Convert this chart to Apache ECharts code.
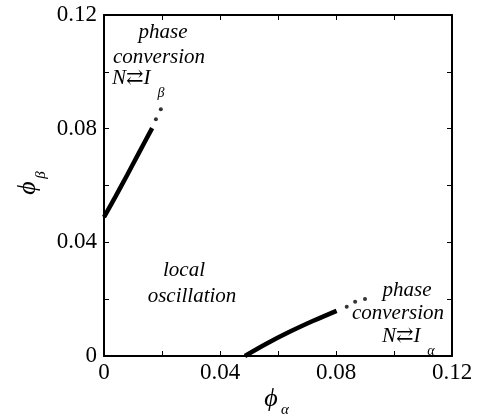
<!DOCTYPE html>
<html>
<head>
<meta charset="utf-8">
<script src="https://cdn.jsdelivr.net/npm/echarts@6/dist/echarts.min.js"></script>
<style>
html,body{margin:0;padding:0;background:#fff;}
#chart{width:480px;height:417px;}
</style>
</head>
<body>
<div id="chart"></div>
<script>
// Axis ticks / labels
var xTicks = [0, 0.04, 0.08, 0.12];
var xTickLabels = ['0', '0.04', '0.08', '0.12'];
var yTicks = [0, 0.04, 0.08, 0.12];
var yTickLabels = ['0', '0.04', '0.08', '0.12'];

// Boundary curve near phi_alpha = 0 (solid part)
var curveBetaX = [0, 0.004, 0.008, 0.012, 0.0166];
var curveBetaY = [0.0489, 0.0562, 0.0637, 0.0714, 0.0802];
// dotted continuation
var dotsBetaX = [0.0179, 0.0196];
var dotsBetaY = [0.0833, 0.0868];

// Boundary curve near phi_beta = 0 (solid part)
var curveAlphaX = [0.0486, 0.056, 0.064, 0.072, 0.0802];
var curveAlphaY = [0, 0.0043, 0.0085, 0.0123, 0.0159];
// dotted continuation
var dotsAlphaX = [0.0837, 0.0866, 0.0900];
var dotsAlphaY = [0.0173, 0.0191, 0.0201];

function zip(a, b) { return a.map(function (v, i) { return [v, b[i]]; }); }
function fmt(ticks, labels) {
  return function (v) {
    for (var i = 0; i < ticks.length; i++) if (Math.abs(ticks[i] - v) < 1e-9) return labels[i];
    return '';
  };
}

var SERIF = '"Liberation Serif", "DejaVu Serif", serif';
var chart = echarts.init(document.getElementById('chart'), null, {renderer: 'canvas'});

var axisCommon = {
  type: 'value', min: 0, max: 0.12, interval: 0.02,
  axisLine: {show: true, onZero: false, lineStyle: {color: '#000', width: 2}},
  axisTick: {show: true, inside: true, length: 5, lineStyle: {color: '#000', width: 1}},
  splitLine: {show: false}
};

chart.setOption({
  animation: false,
  backgroundColor: '#fff',
  grid: {left: 104, top: 15, width: 348, height: 341, containLabel: false},
  xAxis: [
    Object.assign({}, axisCommon, {
      position: 'bottom',
      axisLabel: {show: true, formatter: fmt(xTicks, xTickLabels), color: '#000',
        fontFamily: SERIF, fontSize: 23, margin: 5, showMinLabel: true, showMaxLabel: true}
    }),
    Object.assign({}, axisCommon, {position: 'top', axisLabel: {show: false}})
  ],
  yAxis: [
    Object.assign({}, axisCommon, {
      position: 'left',
      axisLabel: {show: true, formatter: fmt(yTicks, yTickLabels), color: '#000',
        fontFamily: SERIF, fontSize: 23, margin: 7, showMinLabel: true, showMaxLabel: true}
    }),
    Object.assign({}, axisCommon, {position: 'right', axisLabel: {show: false}})
  ],
  series: [
    {type: 'line', data: zip(curveBetaX, curveBetaY), smooth: 0.3, showSymbol: false,
      lineStyle: {color: '#000', width: 4.5}, clip: false},
    {type: 'line', data: zip(curveAlphaX, curveAlphaY), smooth: 0.3, showSymbol: false,
      lineStyle: {color: '#000', width: 4.5}, clip: false},
    {type: 'scatter', data: zip(dotsBetaX, dotsBetaY), symbolSize: 4, itemStyle: {color: '#000'}},
    {type: 'scatter', data: zip(dotsAlphaX, dotsAlphaY), symbolSize: 4, itemStyle: {color: '#000'}}
  ],
  graphic: [
    // top-left annotation
    {type: 'text', x: 163, y: 32, style: {text: 'phase', font: 'italic 21px ' + SERIF, fill: '#000', align: 'center', verticalAlign: 'middle'}},
    {type: 'text', x: 159, y: 57, style: {text: 'conversion', font: 'italic 21px ' + SERIF, fill: '#000', align: 'center', verticalAlign: 'middle'}},
    {type: 'text', x: 112, y: 78, style: {text: 'N\u21C4I', font: 'italic 21px ' + SERIF, fill: '#000', align: 'left', verticalAlign: 'middle'}},
    {type: 'text', x: 161, y: 93, style: {text: '\u03B2', font: 'italic 14px ' + SERIF, fill: '#000', align: 'center', verticalAlign: 'middle'}},
    // middle annotation
    {type: 'text', x: 184, y: 270, style: {text: 'local', font: 'italic 21px ' + SERIF, fill: '#000', align: 'center', verticalAlign: 'middle'}},
    {type: 'text', x: 192, y: 296, style: {text: 'oscillation', font: 'italic 21px ' + SERIF, fill: '#000', align: 'center', verticalAlign: 'middle'}},
    // bottom-right annotation
    {type: 'text', x: 407, y: 290, style: {text: 'phase', font: 'italic 21px ' + SERIF, fill: '#000', align: 'center', verticalAlign: 'middle'}},
    {type: 'text', x: 398, y: 313, style: {text: 'conversion', font: 'italic 21px ' + SERIF, fill: '#000', align: 'center', verticalAlign: 'middle'}},
    {type: 'text', x: 382, y: 336, style: {text: 'N\u21C4I', font: 'italic 21px ' + SERIF, fill: '#000', align: 'left', verticalAlign: 'middle'}},
    {type: 'text', x: 431, y: 351, style: {text: '\u03B1', font: 'italic 14px ' + SERIF, fill: '#000', align: 'center', verticalAlign: 'middle'}},
    // x-axis title
    {type: 'text', x: 271, y: 399, style: {text: '\u03D5', font: 'italic 26px ' + SERIF, fill: '#000', align: 'center', verticalAlign: 'middle'}},
    {type: 'text', x: 285, y: 410, style: {text: '\u03B1', font: 'italic 15px ' + SERIF, fill: '#000', align: 'center', verticalAlign: 'middle'}},
    // y-axis title (rotated)
    {type: 'group', x: 30, y: 185, rotation: Math.PI / 2, children: [
      {type: 'text', x: -3, y: -2, style: {text: '\u03D5', font: 'italic 26px ' + SERIF, fill: '#000', align: 'center', verticalAlign: 'middle'}},
      {type: 'text', x: 10, y: 11, style: {text: '\u03B2', font: 'italic 15px ' + SERIF, fill: '#000', align: 'center', verticalAlign: 'middle'}}
    ]}
  ]
});
</script>
</body>
</html>
